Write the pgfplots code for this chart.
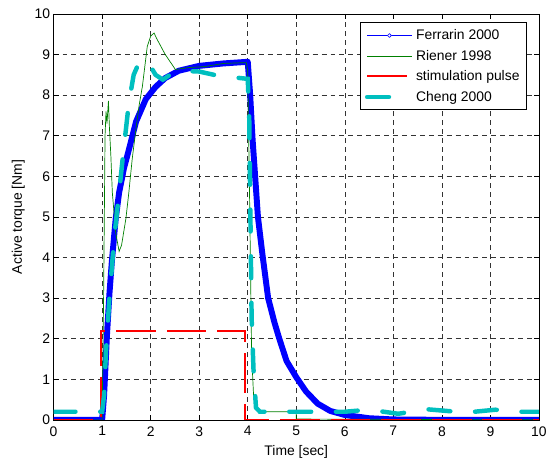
\documentclass[border=0pt]{standalone}
\usepackage{fontspec}
\setmainfont{Liberation Sans}
\usepackage{pgfplots}
\pgfplotsset{compat=1.18}
\definecolor{mblue}{RGB}{0,0,255}
\definecolor{mgreen}{RGB}{0,128,0}
\definecolor{mred}{RGB}{255,0,0}
\definecolor{mcyan}{RGB}{0,191,191}
\begin{document}
\begin{tikzpicture}
\path (-54pt,-44pt) rectangle (496pt,423pt);
\begin{axis}[
  scale only axis, width=489pt, height=409pt,
  at={(0pt,0pt)}, anchor=south west,
  xmin=0, xmax=10, ymin=0, ymax=10,
  xtick={0,1,...,10}, ytick={0,1,...,10},
  /pgf/number format/assume math mode=true,
  tick label style={font=\fontsize{14}{16}\selectfont},
  label style={font=\fontsize{14}{16}\selectfont},
  xticklabel shift=3pt,
  yticklabel shift=0pt,
  tick align=inside, tick pos=both,
  major tick length=5pt,
  axis line style={black, line width=0.7pt},
  every tick/.style={black, line width=0.6pt},
  grid=major,
  major grid style={black!80, line width=0.6pt, dash pattern=on 5pt off 4pt},
  xlabel={Time [sec]},
  ylabel={Active torque [Nm]},
  xlabel style={at={(axis description cs:0.5,-0.0782)}, anchor=center},
  ylabel style={at={(axis description cs:-0.0726,0.5)}, anchor=center},
  legend style={at={(0.975,0.979)}, anchor=north east, draw=black, line width=0.7pt, fill=white,
    font=\fontsize{14}{16}\selectfont, row sep=5pt, inner sep=5pt},
  legend cell align=left,
]
\addplot[mblue, line width=6pt, line join=round,
  legend image code/.code={\draw[mblue, line width=0.6pt] (0pt,0pt) -- (45pt,0pt); \draw[mblue, line width=0.7pt, fill=white] (22.5pt,0pt) circle (2pt);}]
coordinates {(0,0) (1,0) (1.04,0.6) (1.1,2.1) (1.15,3.1) (1.2,3.9) (1.28,4.96) (1.35,5.6) (1.45,6.2) (1.55,6.65) (1.7,7.35) (1.9,7.9) (2.1,8.2) (2.3,8.42) (2.58,8.6) (3.0,8.72) (3.5,8.78) (4.0,8.82) (4.05,8.0) (4.1,6.9) (4.21,5.0) (4.3,4.1) (4.42,3.0) (4.55,2.4) (4.65,2.0) (4.8,1.45) (5.0,1.05) (5.2,0.7) (5.44,0.4) (5.7,0.22) (6.0,0.12) (6.5,0.04) (7,0.01) (8,0) (10,0)};
\addlegendentry{Ferrarin 2000}
\addplot[mgreen, line width=0.7pt,
  legend image code/.code={\draw[mgreen, line width=0.7pt] (0pt,0pt) -- (45pt,0pt);}]
coordinates {(0,0) (1.0,0) (1.03,3) (1.06,7.0) (1.08,7.6) (1.1,7.3) (1.13,7.86) (1.15,7.2) (1.18,6.5) (1.21,5.6) (1.28,4.6) (1.35,4.15) (1.4,4.3) (1.49,4.96) (1.55,5.6) (1.62,6.43) (1.7,7.2) (1.76,7.73) (1.83,8.22) (1.93,9.2) (2.0,9.45) (2.07,9.53) (2.12,9.4) (2.3,9.0) (2.51,8.63) (2.8,8.68) (3.1,8.7) (3.5,8.78) (3.97,8.8) (4.0,8.6) (4.04,5.3) (4.08,1.6) (4.12,0.6) (4.17,0.25) (4.3,0.2) (5.0,0.2) (5.0,0.02) (10,0)};
\addlegendentry{Riener 1998}
\addplot[mred, line width=2pt, dash pattern=on 40pt off 11pt,
  legend image code/.code={\draw[mred, line width=2pt] (0pt,0pt) -- (45pt,0pt);}]
coordinates {(0,0) (0.98,0) (0.98,2.2) (3.95,2.2) (3.95,0) (10,0)};
\addlegendentry{stimulation pulse}
\addplot[mcyan, line width=4.5pt, line cap=round, dash pattern=on 22pt off 25pt,
  legend image code/.code={\draw[mcyan, line width=4.5pt, line cap=round] (0pt,0pt) -- (45pt,0pt);}]
coordinates {(0,0.2) (1.0,0.2) (1.04,0.6) (1.08,1.7) (1.15,3.0) (1.25,4.5) (1.35,5.6) (1.42,6.4) (1.55,7.8) (1.65,8.5) (1.76,8.8) (1.9,8.87) (2.0,8.7) (2.1,8.5) (2.25,8.38) (2.4,8.5) (2.6,8.6) (3.0,8.58) (3.3,8.5) (3.6,8.45) (4.0,8.4) (4.03,7.5) (4.08,2.5) (4.12,1.2) (4.17,0.3) (4.25,0.2) (5,0.2) (6,0.2) (6.5,0.25) (7.1,0.15) (7.7,0.26) (8.5,0.18) (9.1,0.25) (9.6,0.2) (10,0.2)};
\addlegendentry{Cheng 2000}
\end{axis}
\end{tikzpicture}
\end{document}
